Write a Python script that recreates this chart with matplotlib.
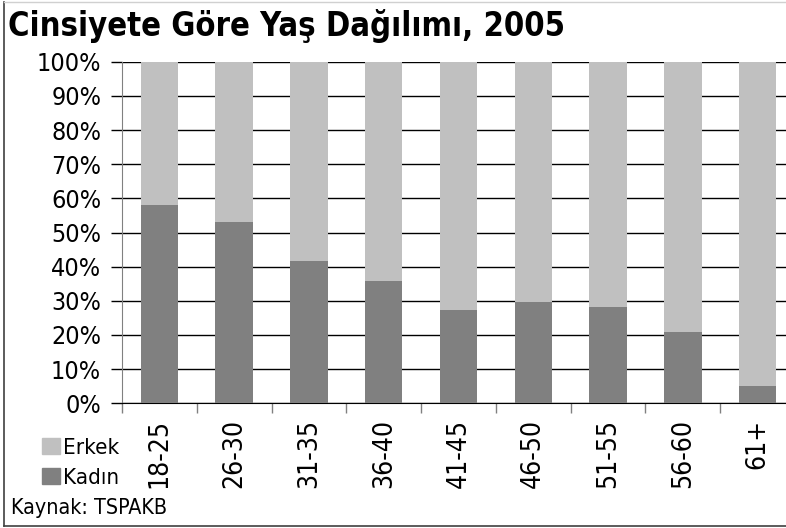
import matplotlib.pyplot as plt
import matplotlib.lines as mlines
import matplotlib.patches as mpatches
import numpy as np

# Cinsiyete göre yaş dağılımı (%)
categories = ['18-25', '26-30', '31-35', '36-40', '41-45', '46-50', '51-55', '56-60', '61+']
kadin = [58.0, 53.0, 41.6, 35.7, 27.4, 29.8, 28.3, 21.0, 5.1]
erkek = [100 - v for v in kadin]
yticks = list(range(0, 101, 10))

c_erkek = '#c0c0c0'
c_kadin = '#808080'

W, H = 786, 528
plt.rcParams['font.family'] = ['DejaVu Sans']
plt.rcParams['font.stretch'] = 'condensed'
fig = plt.figure(figsize=(W / 100, H / 100), dpi=100)

# plot area in pixels: left 122, right ~795 (cut by the image edge), y 62..403
ax = fig.add_axes([122 / W, (H - 403.3) / H, (795 - 122) / W, (403.3 - 61.7) / H])
x = np.arange(len(categories))
ax.bar(x, kadin, width=0.5, color=c_kadin, zorder=3)
ax.bar(x, erkek, width=0.5, bottom=kadin, color=c_erkek, zorder=3)

ax.set_xlim(-0.5, len(categories) - 0.5)
ax.set_ylim(0, 100)
ax.set_yticks(yticks)
ax.set_yticklabels([f'{v}%' for v in yticks], fontsize=18)
ax.yaxis.grid(True, color='black', linewidth=1.0, zorder=0)
ax.tick_params(axis='y', length=8, width=1, color='black', pad=7)

# category boundaries carry the ticks, labels sit at bar centres
ax.set_xticks(np.arange(len(categories) + 1) - 0.5)
ax.set_xticklabels([])
ax.tick_params(axis='x', length=7, width=1, color='#808080')
for i, c in enumerate(categories):
    ax.text(i, -4.5, c, rotation=90, ha='center', va='top', fontsize=19)

for s in ['top', 'right']:
    ax.spines[s].set_visible(False)
ax.spines['left'].set_color('#808080')
ax.spines['bottom'].set_color('black')

fig.text(8 / W, 1 - 26 / H, 'Cinsiyete Göre Yaş Dağılımı, 2005', fontsize=23.5,
         fontweight='bold', va='center', ha='left')

# legend
handles = [mpatches.Patch(color=c_erkek, label='Erkek'),
           mpatches.Patch(color=c_kadin, label='Kadın')]
fig.legend(handles=handles, loc='upper left', bbox_to_anchor=(22 / W, 1 - 418 / H),
           frameon=False, fontsize=16, handlelength=0.8, handleheight=0.7,
           handletextpad=0.15, labelspacing=0.45)

fig.text(11 / W, 1 - 508 / H, 'Kaynak: TSPAKB', fontsize=15.4, va='center', ha='left')

# frame around the chart
fig.add_artist(mlines.Line2D([3.5 / W, 3.5 / W], [1 - 525.5 / H, 1 - 1.5 / H],
                             transform=fig.transFigure, color='#404040', linewidth=1.2))
fig.add_artist(mlines.Line2D([3.5 / W, 1], [1 - 525.5 / H, 1 - 525.5 / H],
                             transform=fig.transFigure, color='#404040', linewidth=1.2))
fig.add_artist(mlines.Line2D([3.5 / W, 1], [1 - 1.5 / H, 1 - 1.5 / H],
                             transform=fig.transFigure, color='#d0d0d0', linewidth=1))

fig.savefig('out.png', dpi=100)
